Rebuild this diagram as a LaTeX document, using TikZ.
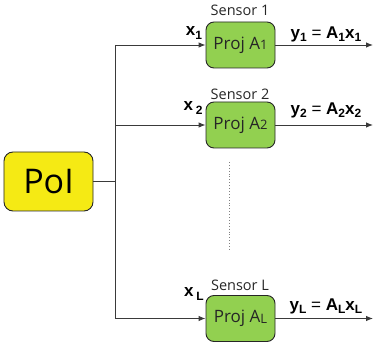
\documentclass[tikz,border=0pt]{standalone}
\usepackage{fontspec}
\setmainfont{Open Sans}
\newfontfamily\lblfont{Liberation Sans}
\usetikzlibrary{arrows.meta}
\definecolor{projgreen}{HTML}{92D050}
\definecolor{poiyellow}{HTML}{F5EA14}
\definecolor{linegray}{HTML}{3A3A3A}
\tikzset{
  projbox/.style={draw=black!85, line width=0.9pt, fill=projgreen, rounded corners=8pt,
    minimum width=69pt, minimum height=46pt, inner sep=0pt, font=\fontsize{17}{19}\selectfont, text=black!85},
  poibox/.style={draw=black!85, line width=0.9pt, fill=poiyellow, rounded corners=9pt,
    minimum width=89pt, minimum height=59pt, inner sep=0pt, font=\fontsize{34}{38}\selectfont},
  sensorlbl/.style={font=\fontsize{14.5}{16}\selectfont, text=black!85, inner sep=0pt},
  mathlbl/.style={font=\lblfont\fontsize{17}{19}\selectfont, inner sep=0pt},
  conn/.style={draw=linegray, line width=0.9pt},
  arr/.style={conn, -{Latex[length=7pt,width=5.5pt]}}
}
\newcommand{\psub}[1]{\raisebox{-0.5pt}{\fontsize{13}{13}\selectfont #1}}
\newcommand{\bsub}[1]{\raisebox{-3.5pt}{\fontsize{12}{12}\selectfont\bfseries #1}}
\begin{document}
\begin{tikzpicture}[x=1pt,y=-1pt]
\useasboundingbox (0,0) rectangle (376,345);
\node[poibox] (poi) at (48.5,181.5) {PoI};
\node[projbox] (p1) at (240.5,45) {Proj A\psub{1}};
\node[projbox] (p2) at (240.5,125) {Proj A\psub{2}};
\node[projbox] (pL) at (240.5,318.5) {Proj A\psub{L}};
\node[sensorlbl] (s1) at (240,10) {Sensor 1};
\node[sensorlbl] (s2) at (240,94) {Sensor 2};
\node[sensorlbl] (sL) at (240,285) {Sensor L};
\coordinate (j) at (115,181.5);
\coordinate (t1) at (115,45);
\coordinate (t2) at (115,125);
\coordinate (tL) at (115,318.5);
\coordinate (o1) at (373,45);
\coordinate (o2) at (373,125);
\coordinate (oL) at (373,318.5);
\coordinate (d1) at (229,162);
\coordinate (d2) at (229,251);
\draw[conn] (poi.east) -- (j);
\draw[conn] (t1) -- (tL);
\draw[arr] (t1) -- (p1.west);
\draw[arr] (t2) -- (p2.west);
\draw[arr] (tL) -- (pL.west);
\draw[arr] (p1.east) -- (o1);
\draw[arr] (p2.east) -- (o2);
\draw[arr] (pL.east) -- (oL);
\draw[draw=gray, line width=0.9pt, dotted] (d1) -- (d2);
\node[mathlbl] (x1) at (194,33) {\bfseries x\bsub{1}};
\node[mathlbl] (x2) at (193,108) {\bfseries x\,\bsub{2}};
\node[mathlbl] (xL) at (194,294) {\bfseries x\,\bsub{L}};
\node[mathlbl] (y1) at (326,34) {\bfseries y\bsub{1} \mdseries=\bfseries\ A\bsub{1}x\bsub{1}};
\node[mathlbl] (y2) at (326,110) {\bfseries y\bsub{2} \mdseries=\bfseries\ A\bsub{2}x\bsub{2}};
\node[mathlbl] (yL) at (326,306) {\bfseries y\bsub{L} \mdseries=\bfseries\ A\bsub{L}x\bsub{L}};
\end{tikzpicture}
\end{document}
